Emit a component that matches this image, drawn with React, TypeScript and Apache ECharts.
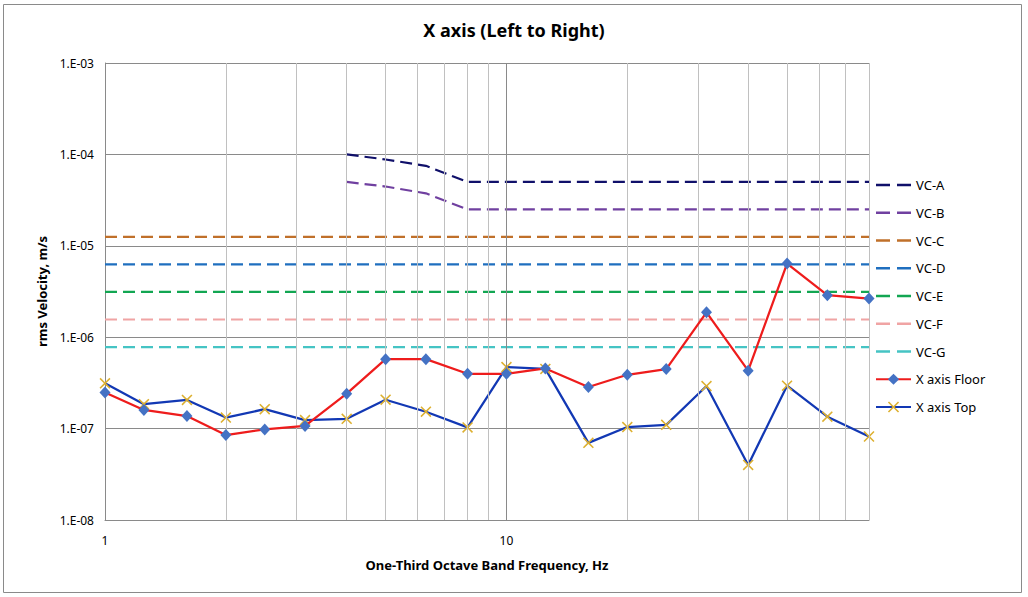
import React, { useEffect, useRef } from "react";
import * as echarts from "echarts";

// One-third octave band centre frequencies (Hz)
const freqs = [1, 1.25, 1.6, 2, 2.5, 3.15, 4, 5, 6.3, 8, 10, 12.5, 16, 20, 25, 31.5, 40, 50, 63, 80];
const floorValues = [
  2.48e-7, 1.6e-7, 1.37e-7, 8.5e-8, 9.8e-8, 1.07e-7, 2.41e-7, 5.75e-7, 5.75e-7, 3.98e-7,
  3.98e-7, 4.55e-7, 2.85e-7, 3.88e-7, 4.48e-7, 1.87e-6, 4.3e-7, 6.4e-6, 2.88e-6, 2.65e-6,
];
const topValues = [
  3.13e-7, 1.85e-7, 2.06e-7, 1.32e-7, 1.63e-7, 1.24e-7, 1.28e-7, 2.07e-7, 1.53e-7, 1.03e-7,
  4.71e-7, 4.5e-7, 6.98e-8, 1.04e-7, 1.1e-7, 2.92e-7, 4.0e-8, 2.95e-7, 1.35e-7, 8.2e-8,
];
// Vibration criteria curves
const vcABFreqs = [4, 5, 6.3, 8, 10, 12.5, 16, 20, 25, 31.5, 40, 50, 63, 80];
const vcAValues = [1e-4, 8.8e-5, 7.5e-5, 5e-5, 5e-5, 5e-5, 5e-5, 5e-5, 5e-5, 5e-5, 5e-5, 5e-5, 5e-5, 5e-5];
const vcBValues = [5e-5, 4.45e-5, 3.75e-5, 2.5e-5, 2.5e-5, 2.5e-5, 2.5e-5, 2.5e-5, 2.5e-5, 2.5e-5, 2.5e-5, 2.5e-5, 2.5e-5, 2.5e-5];
const vcFlatFreqs = [1, 80];
const vcCValue = 1.25e-5;
const vcDValue = 6.25e-6;
const vcEValue = 3.125e-6;
const vcFValue = 1.5625e-6;
const vcGValue = 7.8e-7;
const vcNames = ["VC-A", "VC-B", "VC-C", "VC-D", "VC-E", "VC-F", "VC-G"];
const vcColors = ["#10106A", "#7040A0", "#C0702A", "#1F6FBF", "#12A652", "#F0A4A4", "#45C4C4"];
// Vertical gridlines
const majorGridFreqs = [10];
const minorGridFreqs = [2, 3, 4, 5, 6, 7, 8, 9, 20, 30, 40, 50, 60, 70, 80];

const FONT = "'Noto Sans', 'Open Sans', sans-serif";
const xMarker = "path://M0,1L1,0L5,4L9,0L10,1L6,5L10,9L9,10L5,6L1,10L0,9L4,5Z";
const dashIcon = "path://M0,0H14V2.4H0Z M21,0H35V2.4H21Z";

function pairs(xs: number[], ys: number[]) {
  return xs.map((x, i) => [x, ys[i]]);
}

export default function App() {
  const ref = useRef<HTMLDivElement>(null);
  useEffect(() => {
    document.body.style.margin = "0";
    if (!ref.current) return;
    const chart = echarts.init(ref.current, null, { renderer: "svg" });
    const vcData = [
      pairs(vcABFreqs, vcAValues),
      pairs(vcABFreqs, vcBValues),
      pairs(vcFlatFreqs, [vcCValue, vcCValue]),
      pairs(vcFlatFreqs, [vcDValue, vcDValue]),
      pairs(vcFlatFreqs, [vcEValue, vcEValue]),
      pairs(vcFlatFreqs, [vcFValue, vcFValue]),
      pairs(vcFlatFreqs, [vcGValue, vcGValue]),
    ];
    const vcSeries = vcNames.map((name, i) => ({
      name,
      type: "line",
      data: vcData[i],
      symbol: "none",
      showSymbol: false,
      silent: true,
      z: 3,
      itemStyle: { color: vcColors[i] },
      lineStyle: { color: vcColors[i], width: 2.2, type: [12, 6] },
    }));
    const option: any = {
      animation: false,
      backgroundColor: "#ffffff",
      textStyle: { fontFamily: FONT },
      title: {
        text: "X axis (Left to Right)",
        left: "center",
        top: 16,
        textStyle: { fontFamily: FONT, fontSize: 18, fontWeight: "bold", color: "#000" },
      },
      graphic: [
        {
          type: "rect",
          shape: { x: 3.5, y: 4.5, width: 1018, height: 588 },
          style: { fill: "none", stroke: "#8a8a8a", lineWidth: 1 },
          silent: true,
        },
      ],
      legend: {
        orient: "vertical",
        left: 870,
        top: 173,
        itemWidth: 35,
        itemHeight: 14,
        itemGap: 13.75,
        data: [
          ...vcNames.map((n, i) => ({ name: n, icon: dashIcon, itemStyle: { color: vcColors[i] } })),
          "X axis Floor",
          "X axis Top",
        ],
        textStyle: { fontFamily: FONT, fontSize: 13, color: "#000", lineHeight: 14 },
        selectedMode: false,
      },
      grid: { left: 105, top: 63, right: 159, bottom: 77, containLabel: false },
      xAxis: {
        type: "log",
        logBase: 10,
        min: 1,
        max: 80,
        name: "One-Third Octave Band Frequency, Hz",
        nameLocation: "middle",
        nameGap: 38,
        nameTextStyle: { fontFamily: FONT, fontSize: 13, fontWeight: "bold", color: "#000" },
        axisLine: { show: true, lineStyle: { color: "#8a8a8a", width: 1 } },
        axisTick: { show: false },
        splitLine: { show: false },
        axisLabel: {
          fontFamily: FONT,
          fontSize: 12,
          color: "#000",
          margin: 14,
          formatter: (v: number) => {
            const l = Math.log10(v);
            return Math.abs(l - Math.round(l)) < 1e-6 ? String(Math.round(v)) : "";
          },
        },
      },
      yAxis: {
        type: "log",
        logBase: 10,
        min: 1e-8,
        max: 1e-3,
        name: "rms Velocity, m/s",
        nameLocation: "middle",
        nameGap: 55,
        nameTextStyle: { fontFamily: FONT, fontSize: 13, fontWeight: "bold", color: "#000" },
        axisLine: { show: true, lineStyle: { color: "#8a8a8a", width: 1 } },
        axisTick: { show: false },
        splitLine: { show: true, lineStyle: { color: "#8a8a8a", width: 1 } },
        axisLabel: {
          fontFamily: FONT,
          fontSize: 12,
          color: "#000",
          margin: 11,
          formatter: (v: number) => {
            const e = Math.round(Math.log10(v));
            const s = String(Math.abs(e)).padStart(2, "0");
            return "1.E" + (e < 0 ? "-" : "+") + s;
          },
        },
      },
      series: [
        {
          name: "grid",
          type: "line",
          data: [],
          symbol: "none",
          silent: true,
          z: 1,
          lineStyle: { opacity: 0 },
          markLine: {
            silent: true,
            symbol: ["none", "none"],
            label: { show: false },
            animation: false,
            emphasis: { disabled: true },
            data: [
              ...minorGridFreqs.map((f) => ({ xAxis: f, lineStyle: { color: "#c0c0c0", width: 1, type: "solid" } })),
              ...majorGridFreqs.map((f) => ({ xAxis: f, lineStyle: { color: "#8a8a8a", width: 1, type: "solid" } })),
            ],
          },
        },
        ...vcSeries,
        {
          name: "X axis Floor",
          type: "line",
          data: pairs(freqs, floorValues),
          symbol: "diamond",
          symbolSize: [11, 12],
          showSymbol: true,
          z: 5,
          itemStyle: { color: "#4472C4" },
          lineStyle: { color: "#EE1C1C", width: 2.25 },
        },
        {
          name: "X axis Top",
          type: "line",
          data: pairs(freqs, topValues),
          symbol: xMarker,
          symbolSize: 11,
          showSymbol: true,
          z: 4,
          itemStyle: { color: "#DDB030" },
          lineStyle: { color: "#1238B4", width: 2.25 },
        },
      ],
    };
    chart.setOption(option);
    return () => chart.dispose();
  }, []);
  return (
    <div
      ref={ref}
      style={{ position: "absolute", left: 0, top: 0, width: 1028, height: 597, background: "#fff" }}
    />
  );
}
